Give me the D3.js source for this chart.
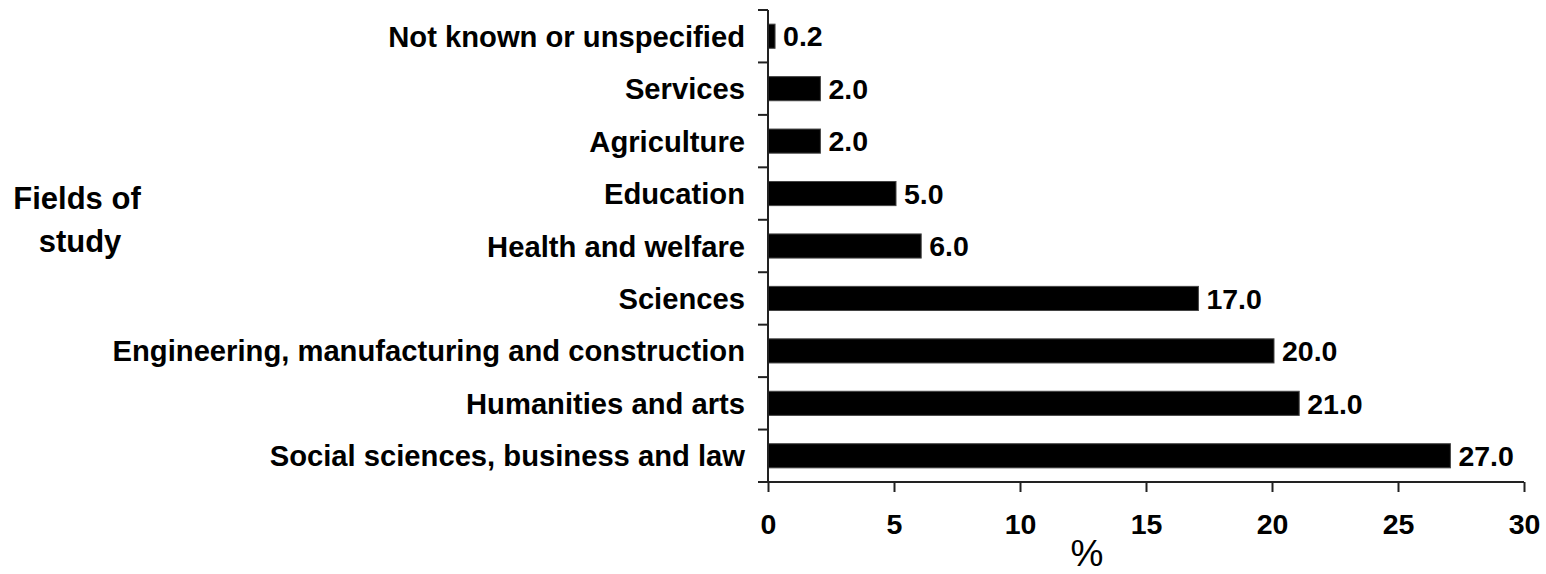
<!DOCTYPE html>
<html>
<head>
<meta charset="utf-8">
<script src="https://cdn.jsdelivr.net/npm/d3@7"></script>
<style>
  html, body { margin: 0; padding: 0; background: #fff; }
  svg { display: block; }
  text { font-family: "Liberation Sans", Arial, sans-serif; fill: #000; }
</style>
</head>
<body>
<svg id="chart" width="1546" height="574"></svg>
<script>
const categories = [
  "Not known or unspecified",
  "Services",
  "Agriculture",
  "Education",
  "Health and welfare",
  "Sciences",
  "Engineering, manufacturing and construction",
  "Humanities and arts",
  "Social sciences, business and law"
];
const values = [0.2, 2.0, 2.0, 5.0, 6.0, 17.0, 20.0, 21.0, 27.0];
const xTicks = [0, 5, 10, 15, 20, 25, 30];
const xTitle = "%";
const yTitle = ["Fields of", "study"];

const svg = d3.select("#chart");
const x = d3.scaleLinear().domain([0, 30]).range([768, 1524]);
const yTop = 10, yBot = 482;
const y = d3.scaleBand().domain(categories).range([yTop, yBot]).paddingInner(0.54).paddingOuter(0.27);
const yCell = d3.scaleBand().domain(categories).range([yTop, yBot]).padding(0);

const axisColor = "#222";

// bars
svg.append("g").selectAll("rect").data(categories).join("rect")
  .attr("x", x(0))
  .attr("y", d => y(d))
  .attr("width", (d, i) => x(values[i]) - x(0) + 2)
  .attr("height", y.bandwidth())
  .attr("fill", "#000")
  .attr("stroke", "#444")
  .attr("stroke-width", 1);

// value labels
svg.append("g").selectAll("text").data(categories).join("text")
  .attr("x", (d, i) => x(values[i]) + 10)
  .attr("y", d => y(d) + y.bandwidth() / 2)
  .attr("dy", "0.36em")
  .attr("font-size", 28.5)
  .attr("font-weight", "bold")
  .text((d, i) => values[i].toFixed(1));

// category labels
svg.append("g").selectAll("text").data(categories).join("text")
  .attr("x", 745)
  .attr("y", d => y(d) + y.bandwidth() / 2)
  .attr("dy", "0.36em")
  .attr("text-anchor", "end")
  .attr("font-size", 29.2)
  .attr("font-weight", "bold")
  .text(d => d);

// y axis line and boundary ticks
const gy = svg.append("g").attr("stroke", axisColor).attr("stroke-width", 2);
gy.append("line").attr("x1", x(0)).attr("x2", x(0)).attr("y1", yTop).attr("y2", yBot);
const bounds = categories.map(d => yCell(d)).concat([yBot]);
gy.selectAll("line.tick").data(bounds).join("line").attr("class", "tick")
  .attr("x1", x(0) - 10).attr("x2", x(0)).attr("y1", d => d).attr("y2", d => d);

// x axis
const xAxis = d3.axisBottom(x).tickValues(xTicks).tickSize(10).tickPadding(22).tickFormat(d3.format("d"));
const gx = svg.append("g").attr("transform", `translate(0,${yBot})`).call(xAxis);
gx.select(".domain").attr("stroke", axisColor).attr("stroke-width", 2).attr("d", `M${x(0)-10},0H${x(30)}`);
gx.selectAll(".tick line").attr("stroke", axisColor).attr("stroke-width", 2);
gx.selectAll(".tick text").attr("font-size", 28.5).attr("font-weight", "bold")
  .attr("font-family", "'Liberation Sans', Arial, sans-serif").attr("fill", "#000");

// x title
svg.append("text").attr("x", 1087).attr("y", 566).attr("text-anchor", "middle")
  .attr("font-size", 37).text(xTitle);

// y title
svg.append("text").attr("x", 77).attr("y", 209).attr("text-anchor", "middle")
  .attr("font-size", 31).attr("font-weight", "bold").text(yTitle[0]);
svg.append("text").attr("x", 80).attr("y", 252).attr("text-anchor", "middle")
  .attr("font-size", 31).attr("font-weight", "bold").text(yTitle[1]);
</script>
</body>
</html>
